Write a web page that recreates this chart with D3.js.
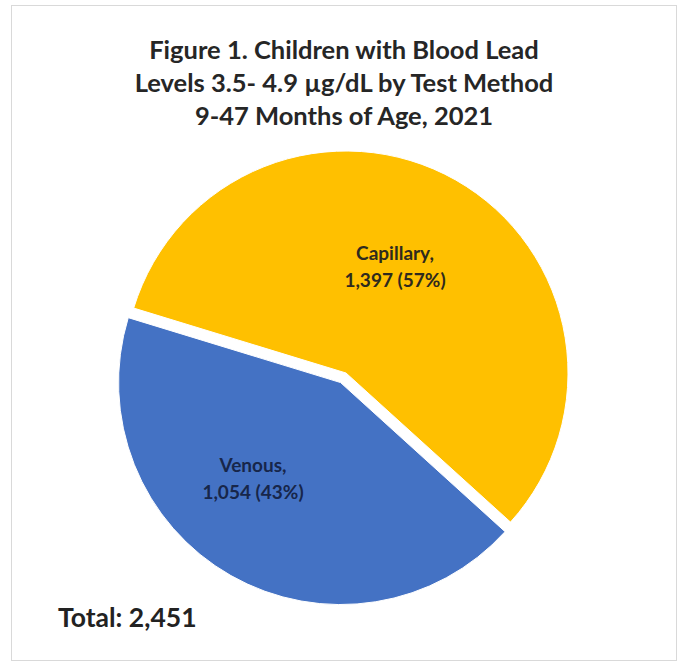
<!DOCTYPE html>
<html>
<head>
<meta charset="utf-8">
<script src="https://cdn.jsdelivr.net/npm/d3@7"></script>
<style>
  html, body { margin: 0; padding: 0; background: #fff; }
  svg { display: block; }
</style>
</head>
<body>
<svg id="chart" width="686" height="662"></svg>
<script>
const categories = ["Capillary", "Venous"];
const values = [1397, 1054];
const percents = ["57%", "43%"];
const titleLines = [
  "Figure 1. Children with Blood Lead",
  "Levels 3.5- 4.9 \u00b5g/dL by Test Method",
  "9-47 Months of Age, 2021"
];
const totalLabel = "Total: 2,451";

const colors = ["#FFC000", "#4472C4"];
const explode = [0, 11];
const labelColors = ["#2e2a1e", "#17264a"];

const svg = d3.select("#chart");

svg.append("rect")
  .attr("x", 11.5).attr("y", 5.5)
  .attr("width", 665).attr("height", 655)
  .attr("fill", "#fff")
  .attr("stroke", "#d9d9d9").attr("stroke-width", 1);

const font = "Lato, 'Open Sans', sans-serif";

svg.append("g").selectAll("text")
  .data(titleLines)
  .join("text")
  .attr("x", 344)
  .attr("y", (d, i) => 59 + i * 33)
  .attr("text-anchor", "middle")
  .attr("font-family", font)
  .attr("font-weight", 700)
  .attr("font-size", 25.5)
  .attr("fill", "#262626")
  .text(d => d);

const cx = 346, cy = 373, r = 222;
const startDeg = -73;
const pie = d3.pie().sort(null)
  .startAngle(startDeg * Math.PI / 180)
  .endAngle((startDeg + 360) * Math.PI / 180);
const arcs = pie(values);
const arc = d3.arc().innerRadius(0).outerRadius(r);

const g = svg.append("g").attr("transform", `translate(${cx},${cy})`);

g.selectAll("path")
  .data(arcs)
  .join("path")
  .attr("transform", (d, i) => {
    const a = (d.startAngle + d.endAngle) / 2;
    return `translate(${Math.sin(a) * explode[i]},${-Math.cos(a) * explode[i]})`;
  })
  .attr("d", arc)
  .attr("fill", (d, i) => colors[i])
  .attr("stroke", "#fff")
  .attr("stroke-width", 1);

const labelPos = [[395, 253], [253, 465]];
const lg = svg.append("g");
arcs.forEach((d, i) => {
  const t = lg.append("text")
    .attr("text-anchor", "middle")
    .attr("font-family", font)
    .attr("font-weight", 700)
    .attr("font-size", 19)
    .attr("fill", labelColors[i]);
  t.append("tspan").attr("x", labelPos[i][0]).attr("y", labelPos[i][1] + 7)
    .text(categories[i] + ",");
  t.append("tspan").attr("x", labelPos[i][0]).attr("y", labelPos[i][1] + 34)
    .text(d3.format(",")(values[i]) + " (" + percents[i] + ")");
});

svg.append("text")
  .attr("x", 58).attr("y", 627)
  .attr("font-family", font)
  .attr("font-weight", 700)
  .attr("font-size", 26.5)
  .attr("fill", "#222")
  .text(totalLabel);
</script>
</body>
</html>
